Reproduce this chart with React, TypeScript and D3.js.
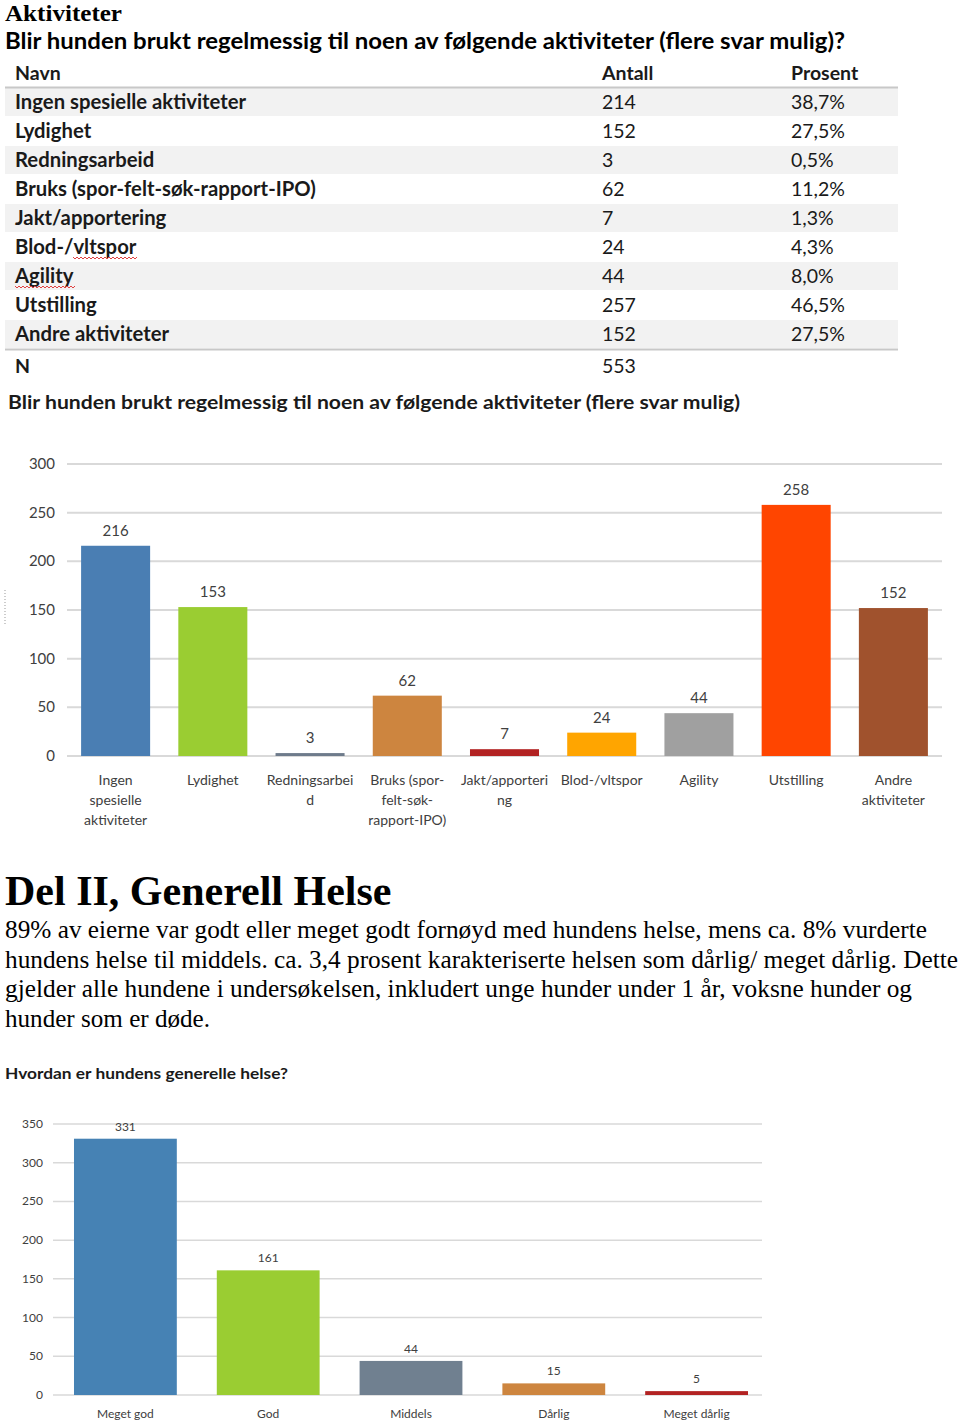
import React from "react";
import * as d3 from "d3";

const tableNames = ["Ingen spesielle aktiviteter","Lydighet","Redningsarbeid","Bruks (spor-felt-søk-rapport-IPO)","Jakt/apportering","Blod-/vltspor","Agility","Utstilling","Andre aktiviteter"];
const tableCounts = ["214","152","3","62","7","24","44","257","152"];
const tablePercents = ["38,7%","27,5%","0,5%","11,2%","1,3%","4,3%","8,0%","46,5%","27,5%"];
const tableN = "553";

const actCategories = ["Ingen spesielle aktiviteter","Lydighet","Redningsarbeid","Bruks (spor-felt-søk-rapport-IPO)","Jakt/apportering","Blod-/vltspor","Agility","Utstilling","Andre aktiviteter"];
const actLabelLines = [["Ingen","spesielle","aktiviteter"],["Lydighet"],["Redningsarbei","d"],["Bruks (spor-","felt-søk-","rapport-IPO)"],["Jakt/apporteri","ng"],["Blod-/vltspor"],["Agility"],["Utstilling"],["Andre","aktiviteter"]];
const actValues = [216,153,3,62,7,24,44,258,152];
const actColors = ["#4A7EB3","#9ACD32","#6E7B8B","#CD853F","#B22222","#FFA500","#A0A0A0","#FF4500","#A0522D"];
const actTicks = [0,50,100,150,200,250,300];

const healthCategories = ["Meget god","God","Middels","Dårlig","Meget dårlig"];
const healthValues = [331,161,44,15,5];
const healthColors = ["#4682B4","#9ACD32","#708090","#CD853F","#B22222"];
const healthTicks = [0,50,100,150,200,250,300,350];

const paragraph = [
  "89% av eierne var godt eller meget godt fornøyd med hundens helse, mens ca. 8% vurderte",
  "hundens helse til middels. ca. 3,4 prosent karakteriserte helsen som dårlig/ meget dårlig. Dette",
  "gjelder alle hundene i undersøkelsen, inkludert unge hunder under 1 år, voksne hunder og",
  "hunder som er døde.",
];
const paragraphWidths = [922, 953, 907, 205];

const SANS = "Lato, 'Open Sans', sans-serif";
const SERIF = "'Liberation Serif', 'DejaVu Serif', serif";

function wavy(x0: number, x1: number, y: number) {
  let d = `M${x0},${y}`;
  for (let x = x0; x < x1; x += 4) d += ` l2,2 l2,-2`;
  return d;
}

export default function App() {
  // chart 1
  const x1 = d3.scaleBand<string>().domain(actCategories).range([67, 942]).paddingInner(0.29).paddingOuter(0.145);
  const y1 = d3.scaleLinear().domain([0, 300]).range([756, 464]);
  // chart 2
  const x2 = d3.scaleBand<string>().domain(healthCategories).range([54, 768]).paddingInner(0.28).paddingOuter(0.14);
  const y2 = d3.scaleLinear().domain([0, 350]).range([1395, 1124]);

  const rowY = (i: number) => 102 + i * 29;

  return (
    <div style={{ position: "absolute", left: 0, top: 0 }}>
      <svg width={960} height={1426} style={{ display: "block", background: "#fff" }}>
        <text x={5} y={21} fontFamily={SERIF} fontWeight="bold" fontSize={24} fill="#000" textLength={117} lengthAdjust="spacingAndGlyphs">Aktiviteter</text>
        <text x={5} y={49} fontFamily={SANS} fontWeight="bold" fontSize={22} fill="#000" textLength={840} lengthAdjust="spacingAndGlyphs">Blir hunden brukt regelmessig til noen av følgende aktiviteter (flere svar mulig)?</text>

        {/* table */}
        {tableNames.map((n, i) => i % 2 === 0 ? (
          <rect key={"bg" + i} x={5} y={rowY(i) - 14} width={893} height={28} fill="#f2f2f2" />
        ) : null)}
        <line x1={5} x2={898} y1={87.5} y2={87.5} stroke="#c8c8c8" strokeWidth={2} />
        <line x1={5} x2={898} y1={349.5} y2={349.5} stroke="#c8c8c8" strokeWidth={2} />
        <g fontFamily={SANS} fontSize={19.5} fill="#1a1a1a">
          <text x={15} y={80} fontWeight="bold">Navn</text>
          <text x={602} y={80} fontWeight="bold">Antall</text>
          <text x={791} y={80} fontWeight="bold">Prosent</text>
          {tableNames.map((n, i) => (
            <g key={"r" + i}>
              <text x={15} y={rowY(i) + 7} fontWeight="bold" fontSize={20.3}>{n}</text>
              <text x={602} y={rowY(i) + 7}>{tableCounts[i]}</text>
              <text x={791} y={rowY(i) + 7}>{tablePercents[i]}</text>
            </g>
          ))}
          <text x={15} y={373} fontWeight="bold">N</text>
          <text x={602} y={373}>{tableN}</text>
        </g>
        <path d={wavy(73, 134, 257)} fill="none" stroke="#e04040" strokeWidth={1} />
        <path d={wavy(15, 73, 286)} fill="none" stroke="#e04040" strokeWidth={1} />

        <text x={8} y={409} fontFamily={SANS} fontWeight="bold" fontSize={19} fill="#1a1a1a" textLength={732} lengthAdjust="spacingAndGlyphs">Blir hunden brukt regelmessig til noen av følgende aktiviteter (flere svar mulig)</text>

        {/* chart 1 */}
        <line x1={5} x2={5} y1={590} y2={626} stroke="#999" strokeDasharray="1,2" />
        {actTicks.map(t => (
          <g key={"t1" + t}>
            <line x1={67} x2={942} y1={y1(t)} y2={y1(t)} stroke="#d9d9d9" strokeWidth={2} />
            <text x={55} y={y1(t) + 5} textAnchor="end" fontFamily={SANS} fontSize={15} fill="#404040">{t}</text>
          </g>
        ))}
        {actCategories.map((c, i) => (
          <g key={"b1" + i}>
            <rect x={x1(c)} y={y1(actValues[i])} width={x1.bandwidth()} height={y1(0) - y1(actValues[i])} fill={actColors[i]} />
            <text x={x1(c)! + x1.bandwidth() / 2} y={y1(actValues[i]) - 10} textAnchor="middle" fontFamily={SANS} fontSize={15} fill="#404040">{actValues[i]}</text>
            {actLabelLines[i].map((l, j) => (
              <text key={j} x={x1(c)! + x1.bandwidth() / 2} y={785 + j * 20} textAnchor="middle" fontFamily={SANS} fontSize={14} fill="#404040">{l}</text>
            ))}
          </g>
        ))}

        {/* text */}
        <text x={5} y={905} fontFamily={SERIF} fontWeight="bold" fontSize={42} fill="#000">Del II, Generell Helse</text>
        {paragraph.map((l, i) => (
          <text key={"p" + i} x={5} y={938 + i * 29.5} fontFamily={SERIF} fontSize={25} fill="#000" textLength={paragraphWidths[i]} lengthAdjust="spacingAndGlyphs">{l}</text>
        ))}

        {/* chart 2 */}
        <text x={5} y={1079} fontFamily={SANS} fontWeight="bold" fontSize={16} fill="#1a1a1a" textLength={283} lengthAdjust="spacingAndGlyphs">Hvordan er hundens generelle helse?</text>
        {healthTicks.map(t => (
          <g key={"t2" + t}>
            <line x1={53} x2={762} y1={y2(t)} y2={y2(t)} stroke="#d9d9d9" strokeWidth={1.5} />
            <text x={43} y={y2(t) + 4} textAnchor="end" fontFamily={SANS} fontSize={12} fill="#404040">{t}</text>
          </g>
        ))}
        {healthCategories.map((c, i) => (
          <g key={"b2" + i}>
            <rect x={x2(c)} y={y2(healthValues[i])} width={x2.bandwidth()} height={y2(0) - y2(healthValues[i])} fill={healthColors[i]} />
            <text x={x2(c)! + x2.bandwidth() / 2} y={y2(healthValues[i]) - 8} textAnchor="middle" fontFamily={SANS} fontSize={12} fill="#404040">{healthValues[i]}</text>
            <text x={x2(c)! + x2.bandwidth() / 2} y={1418} textAnchor="middle" fontFamily={SANS} fontSize={12} fill="#404040">{c}</text>
          </g>
        ))}
      </svg>
    </div>
  );
}
